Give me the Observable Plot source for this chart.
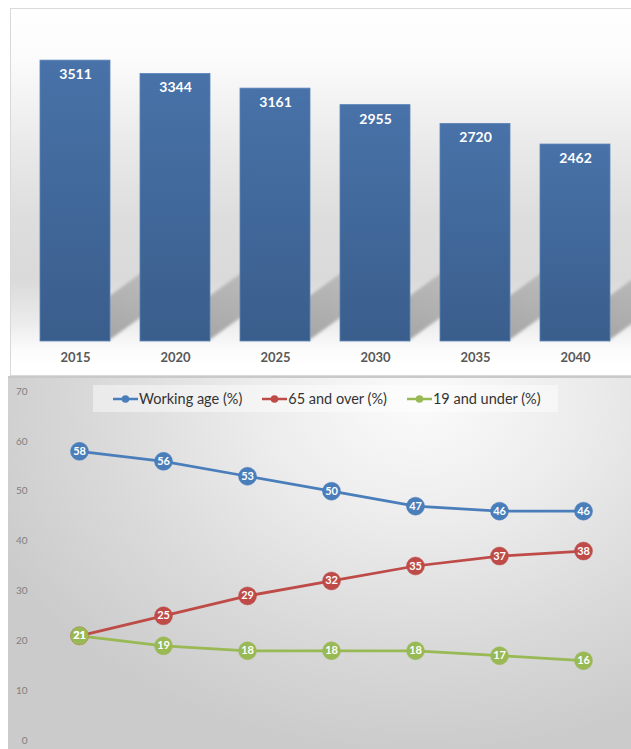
<!DOCTYPE html>
<html>
<head>
<meta charset="utf-8">
<script src="https://cdn.jsdelivr.net/npm/d3@7"></script>
<script src="https://cdn.jsdelivr.net/npm/@observablehq/plot@0.6"></script>
<style>
  html, body { margin: 0; padding: 0; background: #fff; }
  body { width: 631px; height: 749px; position: relative; overflow: hidden; font-family: Lato, "Open Sans", sans-serif; }
  #top {
    position: absolute; left: 10px; top: 8px; width: 625px; height: 366px;
    border: 1px solid #d9d9d9;
    background: linear-gradient(to bottom, #ffffff 0%, #fbfbfb 14%, #e9e9e9 38%, #dddddd 58%, #dadada 74%, #ececec 86%, #fbfbfb 93%, #ffffff 97%);
  }
  #sep { position: absolute; left: 8px; top: 376px; width: 623px; height: 2px; background: #c9c9c9; }
  #bottom {
    position: absolute; left: 8px; top: 378px; width: 623px; height: 371px;
    background: radial-gradient(ellipse 75% 95% at 66% 6%, #fbfbfb 0%, #ececec 35%, #d9d9d9 70%, #cbcbcb 100%);
  }
  #top svg, #bottom svg { position: absolute; left: 0; top: 0; }
  #legend {
    position: absolute; left: 85px; top: 7px; width: 465px; height: 27px;
    background: rgba(255,255,255,0.45);
    display: flex; align-items: center; padding-left: 20px; box-sizing: border-box; gap: 20px;
    font-size: 14.5px; color: #333333;
  }
  .item { display: flex; align-items: center; white-space: nowrap; }
  .item svg { position: static !important; margin-right: 1px; }
</style>
</head>
<body>
<div id="top"></div>
<div id="sep"></div>
<div id="bottom"></div>
<script>
// ---- Data ----
const barYears = ["2015", "2020", "2025", "2030", "2035", "2040"];
const population = [3511, 3344, 3161, 2955, 2720, 2462];

const lineYears = ["2015", "2020", "2025", "2030", "2035", "2040", "2045"];
const seriesNames = ["Working age (%)", "65 and over (%)", "19 and under (%)"];
const workingAge = [58, 56, 53, 50, 47, 46, 46];
const over65 = [21, 25, 29, 32, 35, 37, 38];
const under19 = [21, 19, 18, 18, 18, 17, 16];
const yTicks = [0, 10, 20, 30, 40, 50, 60, 70];
const seriesColors = ["#4a7ebb", "#be4b48", "#98b954"];

// ---- Bar chart ----
const bars = barYears.map((y, i) => ({year: y, value: population[i]}));

function withShadows(index, scales, values, dimensions, context, next) {
  const g = next(index, scales, values, dimensions, context);
  const wrap = document.createElementNS("http://www.w3.org/2000/svg", "g");
  const sh = document.createElementNS("http://www.w3.org/2000/svg", "g");
  sh.setAttribute("filter", "url(#shblur)");
  g.querySelectorAll("rect").forEach(r => {
    const x = +r.getAttribute("x"), w = +r.getAttribute("width");
    const y = +r.getAttribute("y"), h = +r.getAttribute("height");
    const x1 = x + w, b = y + h;
    const p = document.createElementNS("http://www.w3.org/2000/svg", "polygon");
    p.setAttribute("points", `${x1 - 2},${b} ${x1 - 2},${b - 44} ${x1 + 70},${b - 96} ${x1 + 70},${b - 52}`);
    p.setAttribute("fill", "url(#shgrad)");
    sh.appendChild(p);
  });
  wrap.appendChild(sh);
  wrap.appendChild(g);
  return wrap;
}

const barPlot = Plot.plot({
  width: 625, height: 366,
  marginTop: 12, marginBottom: 34, marginLeft: 8, marginRight: 5,
  style: {background: "transparent", fontFamily: "Lato, 'Open Sans', sans-serif"},
  x: {domain: barYears, paddingInner: 0.3, paddingOuter: 0.19, label: null},
  y: {domain: [0, 4000], axis: null},
  marks: [
    Plot.barY(bars, {x: "year", y: "value", fill: "url(#bargrad)", stroke: "#5a84b8", strokeWidth: 0.8, render: withShadows}),
    Plot.text(bars, {x: "year", y: "value", text: d => String(d.value), dy: 14, fill: "white", fontWeight: "bold", fontSize: 14}),
    Plot.axisX({tickSize: 0, tickPadding: 11, fontSize: 13, fontWeight: "bold", color: "#595959", label: null})
  ]
});
const defs = document.createElementNS("http://www.w3.org/2000/svg", "defs");
defs.innerHTML = `
  <linearGradient id="bargrad" x1="0" y1="0" x2="0" y2="1" gradientUnits="objectBoundingBox">
    <stop offset="0" stop-color="#4872a8"/>
    <stop offset="1" stop-color="#3a5e8c"/>
  </linearGradient>
  <linearGradient id="shgrad" x1="0" y1="1" x2="0.3" y2="0">
    <stop offset="0" stop-color="#a6a6a6"/>
    <stop offset="1" stop-color="#c0c0c0"/>
  </linearGradient>
  <filter id="shblur" x="-20%" y="-20%" width="140%" height="140%">
    <feGaussianBlur stdDeviation="1.6"/>
  </filter>`;
barPlot.insertBefore(defs, barPlot.firstChild);
document.getElementById("top").appendChild(barPlot);

// ---- Line chart ----
const seriesValues = [workingAge, over65, under19];
const rows = [];
seriesNames.forEach((s, k) => lineYears.forEach((y, i) => rows.push({series: s, year: y, value: seriesValues[k][i]})));

const linePlot = Plot.plot({
  width: 623, height: 371,
  marginTop: 13, marginBottom: 9, marginLeft: 22, marginRight: 0,
  style: {background: "transparent", fontFamily: "Lato, 'Open Sans', sans-serif"},
  x: {type: "point", domain: lineYears, padding: 0.556, axis: null},
  y: {domain: [0, 70], axis: null},
  color: {domain: seriesNames, range: seriesColors},
  marks: [
    Plot.axisY({ticks: yTicks, tickSize: 0, tickPadding: 3, fontSize: 10, color: "#7f7f7f", label: null}),
    Plot.line(rows, {x: "year", y: "value", z: "series", stroke: "series", strokeWidth: 2.75}),
    Plot.dot(rows, {x: "year", y: "value", fill: "series", r: 9, stroke: "series", strokeWidth: 0.5}),
    Plot.text(rows, {x: "year", y: "value", text: d => String(d.value), fill: "white", fontWeight: "bold", fontSize: 11})
  ]
});
document.getElementById("bottom").appendChild(linePlot);

// legend
const legend = document.createElement("div");
legend.id = "legend";
seriesNames.forEach((s, k) => {
  const it = document.createElement("div");
  it.className = "item";
  it.innerHTML = `<svg width="25" height="10"><line x1="0" y1="5" x2="25" y2="5" stroke="${seriesColors[k]}" stroke-width="2.5"/><circle cx="12.5" cy="5" r="3.8" fill="${seriesColors[k]}"/></svg><span>${s}</span>`;
  legend.appendChild(it);
});
document.getElementById("bottom").appendChild(legend);
</script>
</body>
</html>
